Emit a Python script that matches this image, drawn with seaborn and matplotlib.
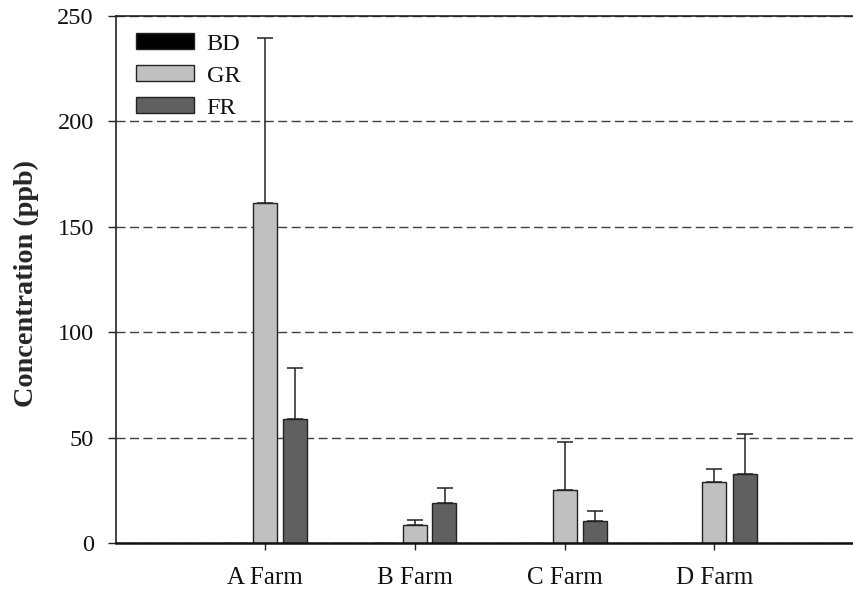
import numpy as np
import pandas as pd
import matplotlib
matplotlib.use("Agg")
import matplotlib.pyplot as plt
import seaborn as sns

# Mean concentration (ppb) per farm and sample type, with upper error
farms = ["A Farm", "B Farm", "C Farm", "D Farm"]
types = ["BD", "GR", "FR"]
bd_mean = [0.0, 0.0, 0.0, 0.0]
gr_mean = [161.5, 8.5, 25.3, 28.9]
fr_mean = [58.8, 19.0, 10.3, 32.9]
bd_err = [0.0, 0.0, 0.0, 0.0]
gr_err = [78.0, 2.6, 22.5, 6.4]
fr_err = [24.4, 7.2, 5.0, 18.8]
yticks = [0, 50, 100, 150, 200, 250]

palette = {"BD": "#000000", "GR": "#c0c0c0", "FR": "#606060"}

means = {"BD": bd_mean, "GR": gr_mean, "FR": fr_mean}
errs = {"BD": bd_err, "GR": gr_err, "FR": fr_err}

df = pd.DataFrame({
    "farm": [f for t in types for f in farms],
    "type": [t for t in types for _ in farms],
    "value": [v for t in types for v in means[t]],
    "err": [e for t in types for e in errs[t]],
})

sns.set_theme(style="white")
plt.rcParams["font.family"] = ["Liberation Serif", "DejaVu Serif"]

fig = plt.figure(figsize=(8.54, 5.91), dpi=100)
ax = fig.add_axes([116 / 854, 48 / 591, 750 / 854, 527 / 591])

sns.barplot(data=df, x="farm", y="value", hue="type", order=farms,
            hue_order=types, palette=palette, width=0.6, gap=0.2,
            errorbar=None, edgecolor="#222222", linewidth=1.0,
            saturation=1, ax=ax, zorder=1)

# upward-only error bars placed on each drawn bar
for t, container in zip(types, ax.containers):
    xs = [p.get_x() + p.get_width() / 2 for p in container.patches]
    ys = [p.get_height() for p in container.patches]
    e = errs[t]
    keep = [i for i in range(len(xs)) if e[i] > 0]
    if not keep:
        continue
    ax.errorbar([xs[i] for i in keep], [ys[i] for i in keep],
                yerr=[np.zeros(len(keep)), [e[i] for i in keep]],
                fmt="none", ecolor="#222222", elinewidth=1.1,
                capsize=5.8, capthick=1.1, zorder=0.9)

ax.set_xlim(-0.99, 4.01)
ax.set_ylim(0, 250)
ax.set_yticks(yticks)
ax.set_yticklabels([str(v) for v in yticks])
ax.set_xlabel("")
ax.set_ylabel("Concentration (ppb)", fontsize=20.3, fontweight="bold", labelpad=13)
ax.yaxis.label.set_y(0.492)

ax.set_axisbelow(True)
ax.yaxis.grid(True, color="#404040", linewidth=1.0, linestyle=(0, (6.5, 3.2)))
ax.xaxis.grid(False)

for s in ["left", "top", "right"]:
    ax.spines[s].set_color("#222222")
    ax.spines[s].set_linewidth(1.2)
ax.spines["bottom"].set_color("#111111")
ax.spines["bottom"].set_linewidth(1.8)

ax.tick_params(axis="y", which="major", direction="out", length=5.5,
               width=1, color="#222222", labelsize=17.5, left=True, pad=10.5)
ax.tick_params(axis="x", which="major", direction="out", length=5,
               width=1, color="#222222", labelsize=18, bottom=True, pad=12.5)
for lab in ax.get_xticklabels() + ax.get_yticklabels():
    lab.set_color("#111111")

leg = ax.legend(loc="upper left",
                bbox_to_anchor=(19.5 / 750, 1 - 17 / 527),
                frameon=False, fontsize=17.5, borderpad=0, borderaxespad=0,
                handlelength=2.4, handleheight=0.66, handletextpad=0.53,
                labelspacing=0.42)
for txt in leg.get_texts():
    txt.set_color("#111111")

fig.savefig("out.png", dpi=100)
